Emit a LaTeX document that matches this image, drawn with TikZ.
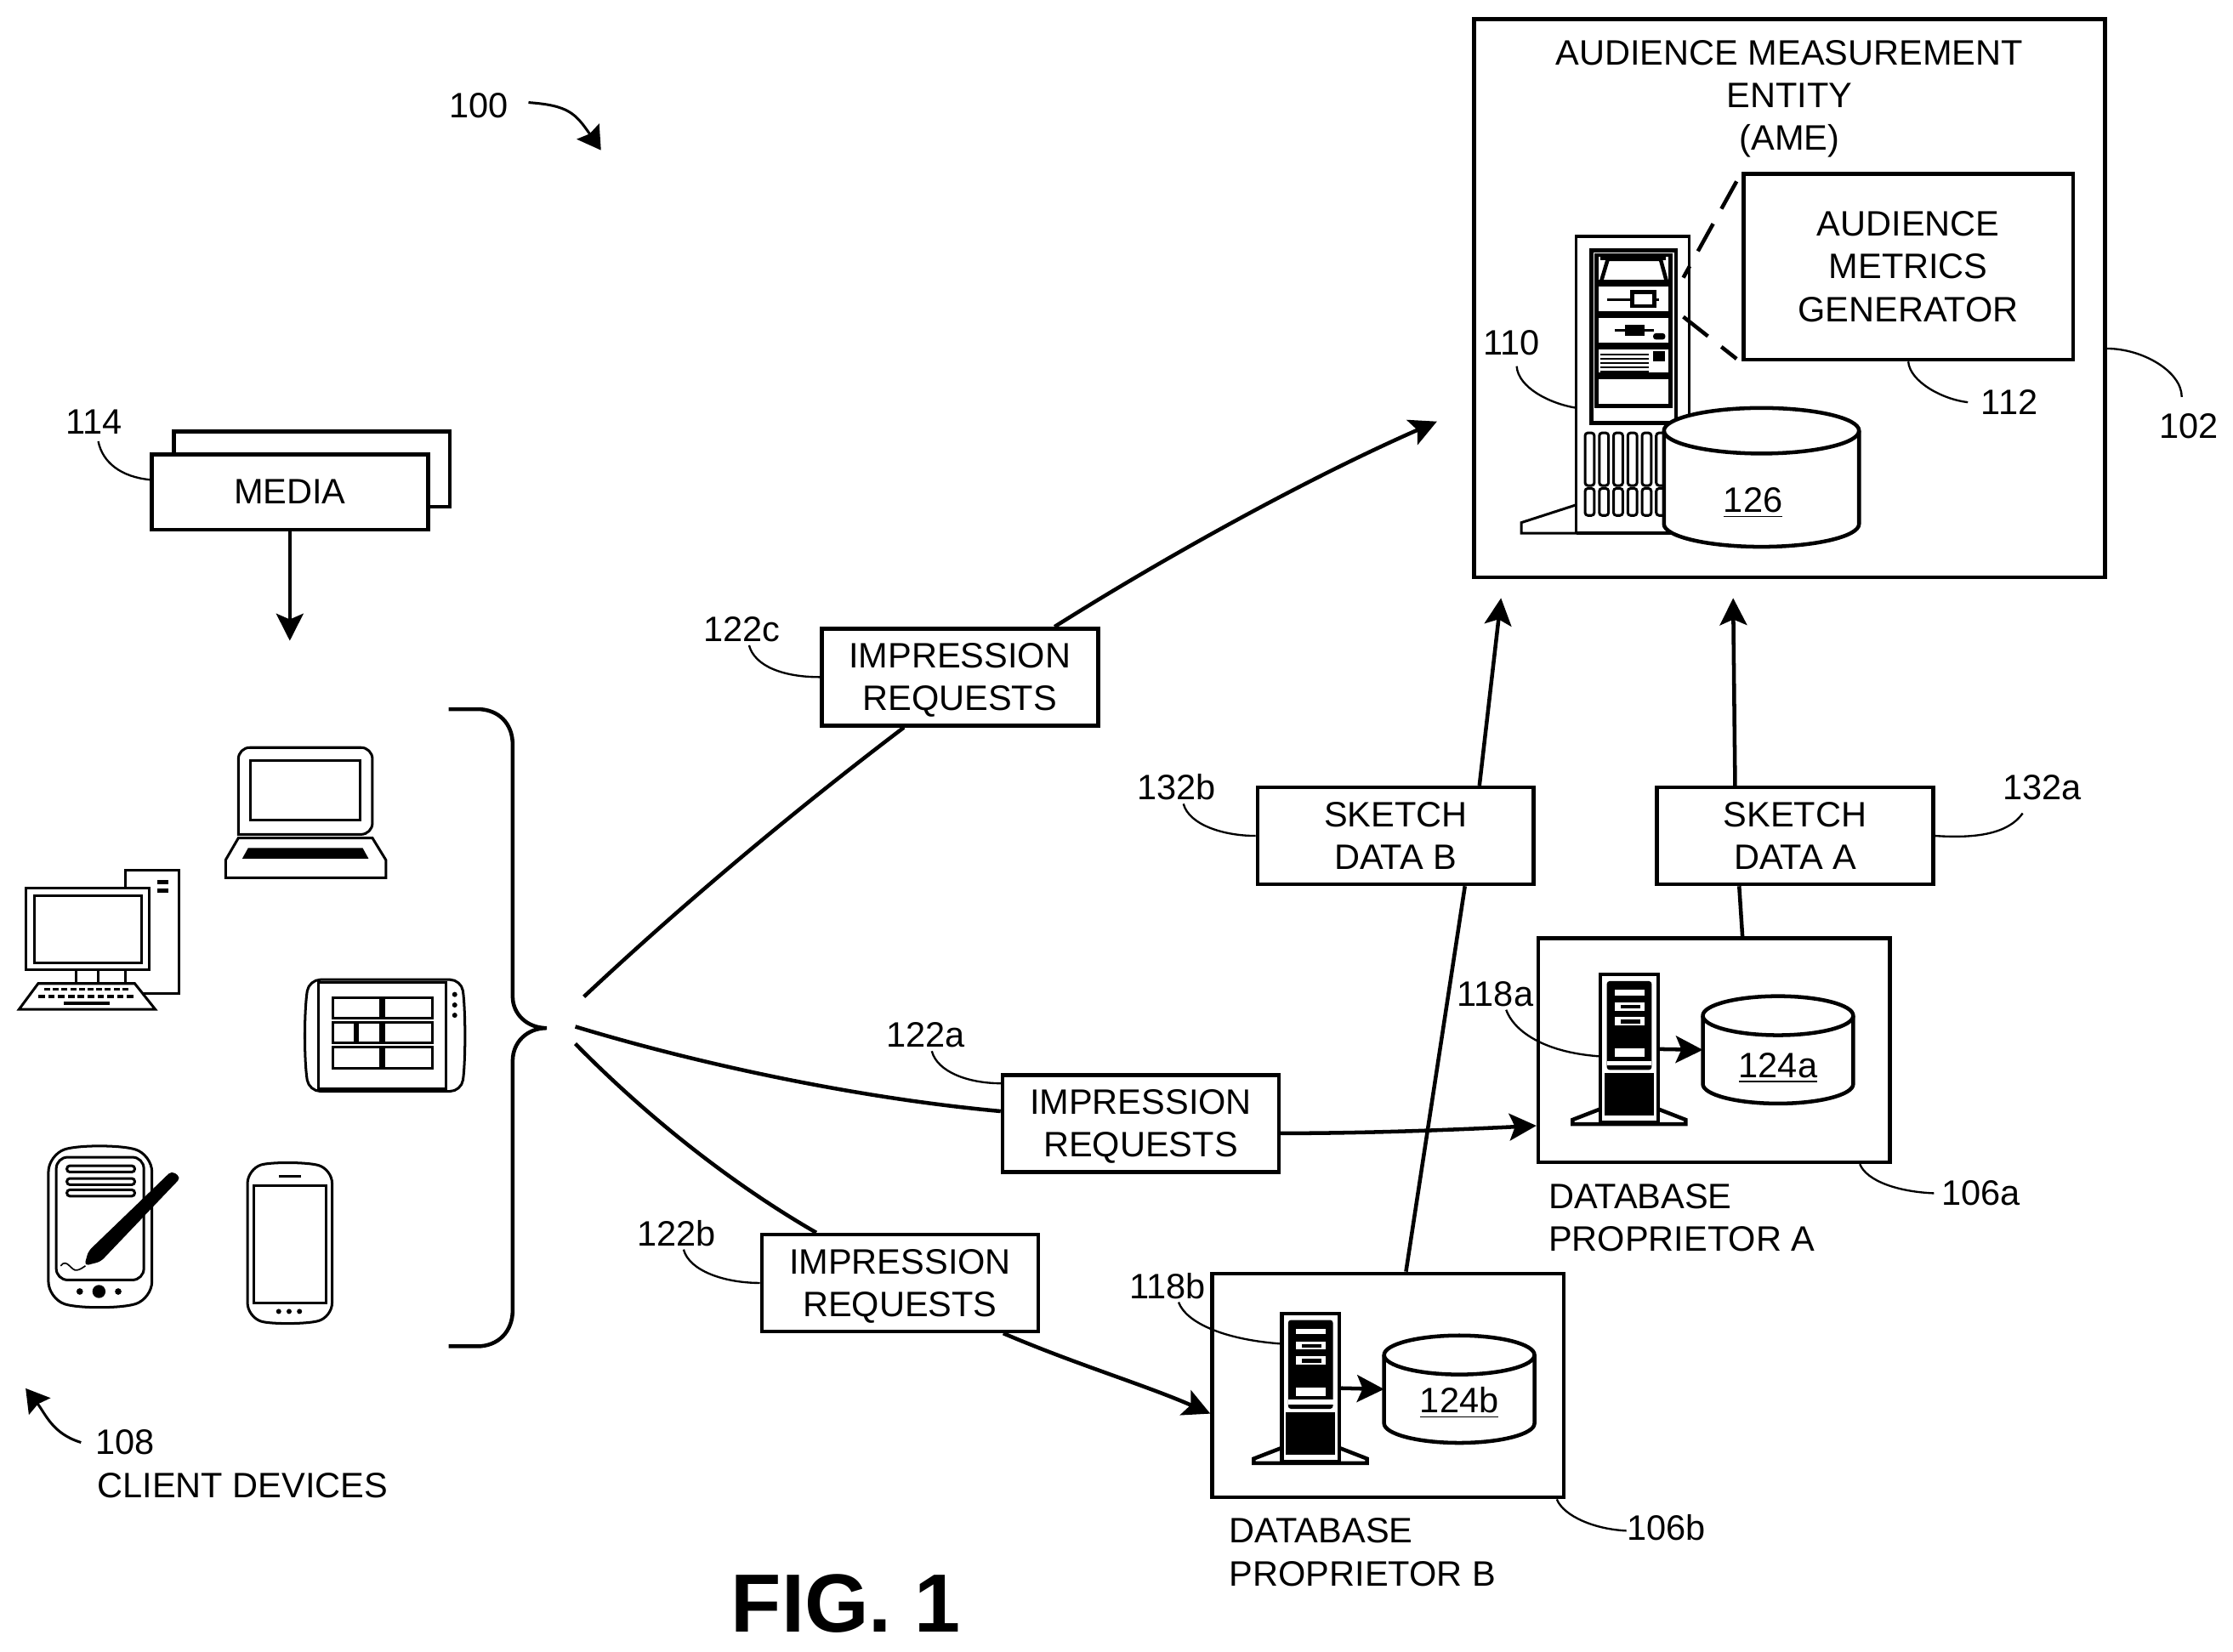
\documentclass[tikz,border=0pt]{standalone}
\usepackage{fontspec}
\setmainfont{Liberation Sans}
\usetikzlibrary{arrows.meta,positioning,calc}

\newcommand{\reqtext}{\rule{0pt}{10.9pt}IMPRESSION\\REQUESTS}

\tikzset{
    every node/.style={font=\fontsize{12.4}{15}\selectfont,inner sep=0pt,align=center},
    boxline/.style={line width=1.35pt},
    thin line/.style={line width=0.7pt},
    iconline/.style={line width=0.9pt},
    arr/.style={boxline,-{Stealth[length=9.5pt,width=9.5pt,inset=2pt]}},
    leadarr/.style={line width=0.9pt,-{Stealth[length=8pt,width=9.5pt,inset=1pt]}},
    plainbox/.style={draw,boxline,fill=white,rectangle},
    reqbox/.style={plainbox,minimum width=97pt,minimum height=34pt},
    dbbox/.style={plainbox,minimum width=123.4pt,minimum height=78.6pt},
    pics/drum/.style n args={3}{code={
        \coordinate (-in) at (-#1,0);
        \draw[boxline,fill=white] (-#1,-#2+#3) .. controls +(0,-.55*#3) and +(-.55*#1,0) .. (0,-#2)
            .. controls +(.55*#1,0) and +(0,-.55*#3) .. (#1,-#2+#3) -- (#1,#2-#3)
            .. controls +(0,.55*#3) and +(.55*#1,0) .. (0,#2)
            .. controls +(-.55*#1,0) and +(0,.55*#3) .. (-#1,#2-#3) -- cycle;
        \draw[boxline] (-#1,-#2+#3) .. controls +(0,.55*#3) and +(-.55*#1,0) .. (0,-#2+2*#3)
            .. controls +(.55*#1,0) and +(0,.55*#3) .. (#1,-#2+#3);
    }},
    smallserver/.pic={
        \node[draw,boxline,fill=white,minimum width=20.2pt,minimum height=52pt] (-body) at (20.2,52) {};
        \draw[boxline,fill=white] (0,94.4) -- (-19.6,102) -- (-19.6,105.1) -- (59.9,105.1) -- (59.9,102) -- (40.4,94.4);
        \draw[boxline] (0,0) rectangle (40.4,104);
        \fill[rounded corners=1pt] (4.5,4.6) rectangle (36,67);
        \fill (2.7,69.4) rectangle (37.7,99);
        \fill[white] (10,10.7) rectangle (30.8,14.6);
        \fill[white] (10,19.8) rectangle (30.8,25.3);
        \fill[white] (10,29.8) rectangle (30.8,36);
        \fill[white] (10,51.8) rectangle (30.8,57.9);
        \fill[white] (4.5,60.5) rectangle (36,64);
        \fill (14,21.5) rectangle (28,24);
        \fill (14,31.5) rectangle (28,34.5);
    },
}

\begin{document}
\begin{tikzpicture}[x=0.5pt,y=-0.5pt]
    \useasboundingbox (0,0) rectangle (1568,1160);

    % media and client devices
    \node[plainbox,minimum width=97pt,minimum height=26.5pt] (mediaback) at (219,329.5) {};
    \node[plainbox,minimum width=97pt,minimum height=26.5pt] (media) at (203.5,345.5) {MEDIA};
    \node (l114) at (66,296) {114};
    \coordinate (devtop) at (203.5,450);
    \draw[arr] (media) -- (devtop);
    \draw[thin line] (l114.south) ++(3,5) .. controls +(3,15) and +(-20,-2) .. (media.175);

    \node (l100) at (336,74) {100};
    \coordinate (all) at (422,105.5);
    \draw[leadarr] (l100.east) ++(14,-2) .. controls +(28,2) and +(-18,-26) .. (all);

    % laptop
    \draw[iconline,rounded corners=4pt] (167.4,586) -- (167.4,525) -- (261.5,525) -- (261.5,586) [sharp corners] -- cycle;
    \draw[iconline] (176,534) rectangle (253,575.7);
    \draw[iconline] (167.4,588.5) -- (261.5,588.5) -- (271,604) -- (271,616.4) -- (158.4,616.4) -- (158.4,604) -- cycle;
    \fill (174.2,595.6) -- (254.7,595.6) -- (258.8,603) -- (170.1,603) -- cycle;

    % desktop
    \draw[iconline] (88.2,623.8) |- (125.5,611.4) |- (100,697.5);
    \fill (110.4,618) rectangle (118.2,621);
    \fill (110.4,624) rectangle (118.2,627);
    \draw[iconline,fill=white] (18.3,623.8) rectangle (104.8,681.2);
    \draw[iconline] (23.9,629) rectangle (99.4,676);
    \draw[iconline] (53.6,681.2) rectangle (68.7,690.7);
    \draw[iconline] (88.2,681.2) -- (88.2,690.7);
    \draw[iconline,fill=white] (26.8,690.7) -- (94.6,690.7) -- (109,708.8) -- (13.4,708.8) -- cycle;
    \foreach \k in {0,...,9} {
        \fill (31+6.1*\k,693.6) rectangle +(4.2,2.2);
        \fill (27+6.9*\k,698.5) rectangle +(4.6,2.2);
    }
    \fill (45,703.5) rectangle (76.8,706);

    % wide tablet
    \draw[iconline,rounded corners=4pt] (270,688) -- (324,688) .. controls (327,710) and (327,745) .. (324,766.4) -- (217,766.4) .. controls (213.5,745) and (213.5,710) .. (217,688) -- cycle;
    \draw[iconline] (223.5,690) rectangle (313.2,764.3);
    \foreach \xa/\ya/\xb/\yb in {233.5/700.5/267.5/715.2, 269.8/700.5/303.4/715.2, 233.5/718.3/249/732.5, 251.3/718.3/267.5/732.5, 269.8/718.3/303.4/732.5, 233.5/735.5/267.5/750.3, 269.8/735.5/303.4/750.3}
        \draw[iconline] (\xa,\ya) rectangle (\xb,\yb);
    \foreach \y in {698.4,705.8,713} \fill (319.3,\y) circle (1.8);

    % pen tablet
    \draw[iconline,rounded corners=6pt] (34,811) .. controls (55,804) and (85,804) .. (106.7,811) -- (106.7,912) .. controls (85,919) and (55,919) .. (34,912) -- cycle;
    \draw[iconline,rounded corners=4pt] (39.5,812.7) -- (101,812.7) -- (101,898.9) -- (39.5,898.9) -- cycle;
    \foreach \y in {818.7,827.6,835.6} \draw[iconline,rounded corners=1pt] (47,\y) rectangle (94.6,\y+4.4);
    \fill (56,907) circle (2.3);
    \fill (69.5,907) circle (4.6);
    \fill (83,907) circle (2.3);
    \fill[rounded corners=1.5pt] (120.6,822.2) -- (127,827) -- (70.7,886) -- (59.2,889) -- (62,878.7) -- cycle;
    \draw[line width=0.5pt] (42.6,889) .. controls (47,883) and (50,893) .. (54,892) .. controls (57,891.5) and (58,890) .. (60,889);

    % phone
    \draw[iconline,rounded corners=5pt] (173.8,821) .. controls (190,816) and (215,816) .. (233.2,821) -- (233.2,925) .. controls (215,930) and (190,930) .. (173.8,925) -- cycle;
    \draw[iconline] (178,832.6) rectangle (229,915);
    \draw[iconline] (195.7,826) -- (211.3,826);
    \foreach \x in {195.7,203,210.3} \fill (\x,921) circle (1.8);

    % brace
    \coordinate (reqtipc) at (410,700);
    \coordinate (reqtipa) at (404,721);
    \coordinate (reqtipb) at (404,733);
    \draw[boxline] (315,498) -- (335,498) .. controls (350,498) and (360,508) .. (360,523) -- (360,700) .. controls (360,712) and (370,722) .. (384,722)
        .. controls (370,722) and (360,732) .. (360,745) -- (360,920) .. controls (360,935) and (350,945.5) .. (335,945.5) -- (315,945.5);

    \node (l108) at (88,1013) {108};
    \node[anchor=north west,align=left] (clients) at (68,1034) {CLIENT DEVICES};
    \coordinate (devbottom) at (18,975);
    \draw[leadarr] (l108.west) ++(-10,0) .. controls +(-20,-6) and +(14,18) .. (devbottom);

    % audience measurement entity
    \node[plainbox,minimum width=221.5pt,minimum height=196pt] (ame) at (1256.5,209.5) {};
    \node (amename) at (1256.5,69.5) {AUDIENCE MEASUREMENT\\ENTITY\\(AME)};
    \node[plainbox,minimum width=115.7pt,minimum height=65.3pt] (metrics) at (1340,187.3) {AUDIENCE\\METRICS\\GENERATOR};

    \node[draw,iconline,minimum width=39.5pt,minimum height=104pt] (srv) at (1146.5,270) {};
    \draw[iconline] (1107,354.5) -- (1068.3,367) -- (1068.3,374.4) -- (1107,374.4);
    \draw[iconline] (1107,374.4) -- (1186,374.4);
    \draw[boxline] (1117.6,176) rectangle (1177,297);
    \foreach \ya/\yb in {179/198,200/220,222/242,244/263,265/285} \draw[boxline] (1121,\ya) rectangle (1173,\yb);
    \draw[boxline] (1124.6,196.7) -- (1129,182) -- (1166,182) -- (1170,196.7);
    \fill (1124,180) rectangle (1170,183);
    \draw[iconline] (1128.7,210.5) -- (1165,210.5);
    \draw[boxline,fill=white] (1146,205) rectangle (1161.5,215);
    \draw[iconline] (1134,232) -- (1161.5,232);
    \fill (1140.8,228) rectangle (1154.6,236);
    \fill[rounded corners=1pt] (1160.8,234) rectangle (1169.4,238.5);
    \foreach \y in {249,252,255,258,261} \draw[line width=0.6pt] (1123.5,\y) -- (1158,\y);
    \fill (1160.8,246.5) rectangle (1169.4,253.7);
    \foreach \x in {1113,1123,1133,1143,1153,1163} {
        \draw[iconline,rounded corners=1pt] (\x,304) rectangle +(6.5,37);
        \draw[iconline,rounded corners=1pt] (\x,343) rectangle +(6.5,19);
    }
    \pic (d126) at (1236.9,335.25) {drum={68.5}{48.75}{16}};
    \node (n126) at (1231,353) {\underline{126}};

    \coordinate (dasha) at (1219.4,127.4);
    \coordinate (dashb) at (1182,195);
    \coordinate (dashc) at (1182,222.5);
    \coordinate (dashd) at (1219.4,252);
    \draw[boxline,dash pattern=on 11pt off 6pt] (dasha) -- (dashb);
    \draw[boxline,dash pattern=on 11pt off 6pt] (dashc) -- (dashd);

    \node (l110) at (1061.5,241) {110};
    \node (l112) at (1411,282.5) {112};
    \node (l102) at (1537,299) {102};
    \draw[thin line] (l110.south) ++(3.5,7) .. controls +(1,15) and +(-18,-3) .. (srv.202);
    \draw[thin line] (metrics.south) .. controls +(1,14) and +(-18,-2) .. ($(l112.west)+(-9,0)$);
    \draw[thin line] (ame.-9.5) .. controls +(25,0) and +(0,-18) .. ($(l102.north)+(-5,-11)$);

    % database proprietors
    \node[dbbox] (dba) at (1203.6,737.6) {};
    \node[dbbox] (dbb) at (974.6,973) {};
    \node[anchor=north west,align=left] (dbaname) at (1087,831) {DATABASE\\PROPRIETOR A};
    \node[anchor=north west,align=left] (dbbname) at (863,1066) {DATABASE\\PROPRIETOR B};

    \pic (srva) at (1123.8,684.4) {smallserver};
    \pic (srvb) at (900,922.4) {smallserver};
    \pic (d124a) at (1248.5,737.3) {drum={52.8}{37.7}{13.7}};
    \node (n124a) at (1248.5,750) {\underline{124a}};
    \pic (d124b) at (1024.7,975.6) {drum={52.8}{37.7}{13.7}};
    \node (n124b) at (1024.7,985) {\underline{124b}};
    \draw[arr] (srva-body) -- (d124a-in);
    \draw[arr] (srvb-body) -- (d124b-in);

    \node (l118a) at (1050,698) {118a};
    \node (l118b) at (820,903) {118b};
    \node (l106a) at (1391,838) {106a};
    \node (l106b) at (1170,1073) {106b};
    \draw[thin line] (l118a.south) ++(7.6,2) .. controls +(5,14) and +(-40,-3) .. (srva-body.194);
    \draw[thin line] (l118b.south) ++(7.6,2) .. controls +(5,14) and +(-40,-3) .. (srvb-body.125);
    \draw[thin line] (dba.-38.9) .. controls +(5,12) and +(-25,-1) .. ($(l106a.west)+(-5,0)$);
    \draw[thin line] (dbb.-34.3) .. controls +(5,12) and +(-22,-1) .. ($(l106b.west)+(0,2)$);

    % requests and sketches
    \node[reqbox] (reqc) at (674,475.5) {\reqtext};
    \node[reqbox] (reqa) at (801,789) {\reqtext};
    \node[reqbox] (reqb) at (632,901) {\reqtext};
    \node[reqbox] (sketchb) at (980,587) {SKETCH\\DATA B};
    \node[reqbox] (sketcha) at (1260.5,587) {SKETCH\\DATA A};

    \coordinate (ametipc) at (1009,296);
    \coordinate (ametipb) at (1054,420);
    \coordinate (ametipa) at (1217,420);
    \draw[boxline] (reqtipc) .. controls (490,625) and (570,560) .. (reqc.222.2);
    \draw[arr] (reqc.28) .. controls (820,390) and (920,335) .. (ametipc);
    \draw[boxline] (reqtipa) .. controls (500,750) and (610,772) .. (reqa.175.3);
    \draw[arr] (reqa.-4.1) .. controls +(60,0) and +(-60,3) .. (dba.-157.4);
    \draw[boxline] (reqtipb) .. controls (460,790) and (520,835) .. (reqb.149.2);
    \draw[arr] (reqb.-26.2) .. controls (755,958) and (805,973) .. (dbb.-171.7);
    \draw[boxline] (dbb.81) -- (sketchb.-36.7);
    \draw[arr] (sketchb.31.7) -- (ametipb);
    \draw[boxline] (dba.76.1) -- (sketcha.222);
    \draw[arr] (sketcha.140) -- (ametipa);

    \node (l122c) at (521,442) {122c};
    \node (l122a) at (650,727) {122a};
    \node (l122b) at (475,866) {122b};
    \node (l132b) at (826,553) {132b};
    \node (l132a) at (1434,553) {132a};
    \draw[thin line] (l122c.south) ++(5,2) .. controls +(4,15) and +(-25,0) .. (reqc.west);
    \draw[thin line] (l122a.south) ++(4.3,2) .. controls +(4,15) and +(-22,0) .. (reqa.164.5);
    \draw[thin line] (l122b.south) ++(5,2) .. controls +(4,15) and +(-25,0) .. (reqb.west);
    \draw[thin line] (l132b.south) ++(5,2) .. controls +(4,15) and +(-22,0) .. (sketchb.west);
    \draw[thin line] (l132a.south) ++(-13.7,9) .. controls +(-10,14) and +(30,2) .. (sketcha.east);

    \node[font=\fontsize{29}{34}\bfseries\selectfont] (fig) at (594,1126) {FIG. 1};
\end{tikzpicture}
\end{document}
